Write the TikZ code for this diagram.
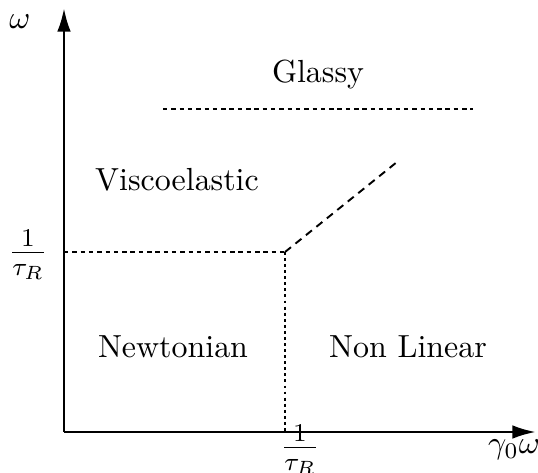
\documentclass[tikz,border=0pt]{standalone}
\usepackage{amsmath}
\usepackage{tikz}
\usetikzlibrary{arrows.meta}

\begin{document}
\begin{tikzpicture}[
  x=0.011cm, y=-0.011cm,
  font=\normalsize,
  ax/.style={-{Latex[length=2.6mm,width=1.5mm]}, line width=0.9pt},
  fine/.style={line width=0.55pt, dash pattern=on 1.4pt off 1.2pt},
  coarse/.style={line width=0.6pt, dash pattern=on 2.4pt off 1.8pt},
  dots/.style={line width=0.6pt, dash pattern=on 0.9pt off 1.0pt},
  lbl/.style={inner sep=1pt},
  frc/.style={inner sep=1pt, font=\fontsize{11.5}{13}\selectfont}
]
\useasboundingbox (0,0) rectangle (538,473);
% axes
\coordinate (o) at (64,432);
\coordinate (ytip) at (64,8);
\coordinate (xtip) at (536,432);
\draw[ax] (o) -- (ytip);
\draw[ax] (o) -- (xtip);
% region boundaries
\coordinate (c) at (285,252);
\coordinate (yc) at (64,252);
\coordinate (xc) at (285,432);
\coordinate (d) at (397,162);
\coordinate (g1) at (163,109);
\coordinate (g2) at (473,109);
\draw[fine] (yc) -- (c);
\draw[dots] (c) -- (xc);
\draw[coarse] (c) -- (d);
\draw[fine] (g1) -- (g2);
% labels
\node[lbl] (wl) at (20,22) {$\omega$};
\node[frc] (tl) at (28,255) {$\frac{1}{\tau_R}$};
\node[frc] (tx) at (300,450) {$\frac{1}{\tau_R}$};
\node[lbl] (gw) at (514,450) {$\gamma_0\omega$};
\node[lbl] (gl) at (318,75) {Glassy};
\node[lbl] (vl) at (177,180) {Viscoelastic};
\node[lbl] (nl) at (173,347) {Newtonian};
\node[lbl] (nll) at (408,347) {Non Linear};
\end{tikzpicture}
\end{document}
